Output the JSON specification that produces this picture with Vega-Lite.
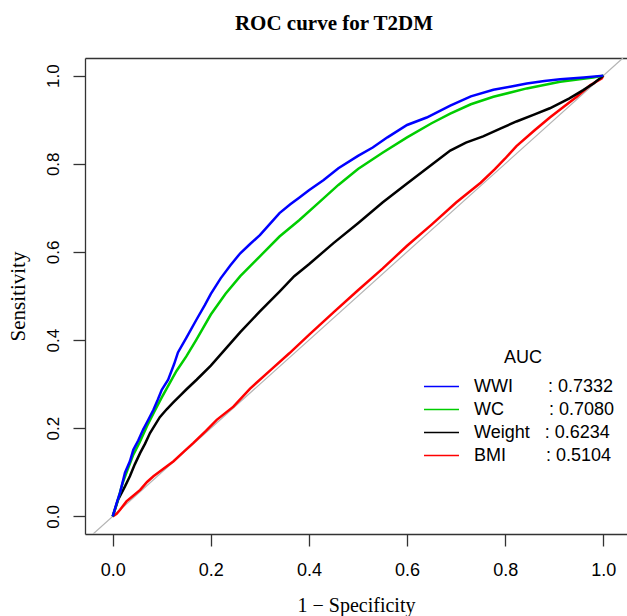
{
  "$schema": "https://vega.github.io/schema/vega-lite/v6.json",
  "width": 542,
  "height": 476,
  "autosize": "none",
  "padding": {"left": 85, "top": 58, "right": 0, "bottom": 82},
  "background": "white",
  "config": {"view": {"stroke": null}},
  "title": {"text": "ROC curve for T2DM", "font": "Liberation Serif", "fontSize": 21, "fontWeight": "bold", "color": "black", "anchor": "middle", "dx": -22, "offset": 24},
  "datasets": {
    "diag": [{"fpr": -0.04, "tpr": -0.04}, {"fpr": 1.04, "tpr": 1.04}],
    "roc": [
      {"marker": "BMI", "fpr": 0, "tpr": 0},
      {"marker": "BMI", "fpr": 0.008, "tpr": 0.006},
      {"marker": "BMI", "fpr": 0.015, "tpr": 0.015},
      {"marker": "BMI", "fpr": 0.028, "tpr": 0.034},
      {"marker": "BMI", "fpr": 0.04, "tpr": 0.045},
      {"marker": "BMI", "fpr": 0.056, "tpr": 0.06},
      {"marker": "BMI", "fpr": 0.07, "tpr": 0.078},
      {"marker": "BMI", "fpr": 0.083, "tpr": 0.091},
      {"marker": "BMI", "fpr": 0.1, "tpr": 0.105},
      {"marker": "BMI", "fpr": 0.124, "tpr": 0.125},
      {"marker": "BMI", "fpr": 0.145, "tpr": 0.147},
      {"marker": "BMI", "fpr": 0.164, "tpr": 0.166},
      {"marker": "BMI", "fpr": 0.19, "tpr": 0.194},
      {"marker": "BMI", "fpr": 0.212, "tpr": 0.219},
      {"marker": "BMI", "fpr": 0.246, "tpr": 0.249},
      {"marker": "BMI", "fpr": 0.28, "tpr": 0.29},
      {"marker": "BMI", "fpr": 0.32, "tpr": 0.33},
      {"marker": "BMI", "fpr": 0.36, "tpr": 0.37},
      {"marker": "BMI", "fpr": 0.4, "tpr": 0.412},
      {"marker": "BMI", "fpr": 0.45, "tpr": 0.463},
      {"marker": "BMI", "fpr": 0.5, "tpr": 0.513},
      {"marker": "BMI", "fpr": 0.55, "tpr": 0.562},
      {"marker": "BMI", "fpr": 0.6, "tpr": 0.614},
      {"marker": "BMI", "fpr": 0.65, "tpr": 0.662},
      {"marker": "BMI", "fpr": 0.7, "tpr": 0.712},
      {"marker": "BMI", "fpr": 0.75, "tpr": 0.757},
      {"marker": "BMI", "fpr": 0.779, "tpr": 0.788},
      {"marker": "BMI", "fpr": 0.8, "tpr": 0.812},
      {"marker": "BMI", "fpr": 0.823, "tpr": 0.84},
      {"marker": "BMI", "fpr": 0.86, "tpr": 0.876},
      {"marker": "BMI", "fpr": 0.891, "tpr": 0.905},
      {"marker": "BMI", "fpr": 0.92, "tpr": 0.93},
      {"marker": "BMI", "fpr": 0.946, "tpr": 0.952},
      {"marker": "BMI", "fpr": 0.973, "tpr": 0.978},
      {"marker": "BMI", "fpr": 0.997, "tpr": 0.994},
      {"marker": "BMI", "fpr": 1, "tpr": 1},
      {"marker": "Weight", "fpr": 0, "tpr": 0},
      {"marker": "Weight", "fpr": 0.011, "tpr": 0.038},
      {"marker": "Weight", "fpr": 0.025, "tpr": 0.068},
      {"marker": "Weight", "fpr": 0.035, "tpr": 0.091},
      {"marker": "Weight", "fpr": 0.045, "tpr": 0.118},
      {"marker": "Weight", "fpr": 0.056, "tpr": 0.144},
      {"marker": "Weight", "fpr": 0.066, "tpr": 0.165},
      {"marker": "Weight", "fpr": 0.076, "tpr": 0.189},
      {"marker": "Weight", "fpr": 0.096, "tpr": 0.225},
      {"marker": "Weight", "fpr": 0.11, "tpr": 0.243},
      {"marker": "Weight", "fpr": 0.124, "tpr": 0.259},
      {"marker": "Weight", "fpr": 0.14, "tpr": 0.277},
      {"marker": "Weight", "fpr": 0.151, "tpr": 0.289},
      {"marker": "Weight", "fpr": 0.171, "tpr": 0.31},
      {"marker": "Weight", "fpr": 0.2, "tpr": 0.342},
      {"marker": "Weight", "fpr": 0.23, "tpr": 0.38},
      {"marker": "Weight", "fpr": 0.26, "tpr": 0.418},
      {"marker": "Weight", "fpr": 0.3, "tpr": 0.465},
      {"marker": "Weight", "fpr": 0.34, "tpr": 0.51},
      {"marker": "Weight", "fpr": 0.37, "tpr": 0.545},
      {"marker": "Weight", "fpr": 0.4, "tpr": 0.572},
      {"marker": "Weight", "fpr": 0.45, "tpr": 0.62},
      {"marker": "Weight", "fpr": 0.5, "tpr": 0.665},
      {"marker": "Weight", "fpr": 0.55, "tpr": 0.712},
      {"marker": "Weight", "fpr": 0.6, "tpr": 0.755},
      {"marker": "Weight", "fpr": 0.65, "tpr": 0.798},
      {"marker": "Weight", "fpr": 0.688, "tpr": 0.83},
      {"marker": "Weight", "fpr": 0.72, "tpr": 0.848},
      {"marker": "Weight", "fpr": 0.755, "tpr": 0.862},
      {"marker": "Weight", "fpr": 0.79, "tpr": 0.88},
      {"marker": "Weight", "fpr": 0.823, "tpr": 0.896},
      {"marker": "Weight", "fpr": 0.86, "tpr": 0.912},
      {"marker": "Weight", "fpr": 0.891, "tpr": 0.926},
      {"marker": "Weight", "fpr": 0.93, "tpr": 0.948},
      {"marker": "Weight", "fpr": 0.959, "tpr": 0.967},
      {"marker": "Weight", "fpr": 0.98, "tpr": 0.982},
      {"marker": "Weight", "fpr": 1, "tpr": 1},
      {"marker": "WC", "fpr": 0, "tpr": 0},
      {"marker": "WC", "fpr": 0.01, "tpr": 0.035},
      {"marker": "WC", "fpr": 0.02, "tpr": 0.075},
      {"marker": "WC", "fpr": 0.03, "tpr": 0.105},
      {"marker": "WC", "fpr": 0.042, "tpr": 0.14},
      {"marker": "WC", "fpr": 0.055, "tpr": 0.168},
      {"marker": "WC", "fpr": 0.07, "tpr": 0.205},
      {"marker": "WC", "fpr": 0.085, "tpr": 0.238},
      {"marker": "WC", "fpr": 0.1, "tpr": 0.27},
      {"marker": "WC", "fpr": 0.115, "tpr": 0.3},
      {"marker": "WC", "fpr": 0.13, "tpr": 0.33},
      {"marker": "WC", "fpr": 0.15, "tpr": 0.363},
      {"marker": "WC", "fpr": 0.17, "tpr": 0.4},
      {"marker": "WC", "fpr": 0.2, "tpr": 0.458},
      {"marker": "WC", "fpr": 0.23, "tpr": 0.505},
      {"marker": "WC", "fpr": 0.26, "tpr": 0.545},
      {"marker": "WC", "fpr": 0.3, "tpr": 0.59},
      {"marker": "WC", "fpr": 0.34, "tpr": 0.635},
      {"marker": "WC", "fpr": 0.38, "tpr": 0.672},
      {"marker": "WC", "fpr": 0.42, "tpr": 0.712},
      {"marker": "WC", "fpr": 0.46, "tpr": 0.752},
      {"marker": "WC", "fpr": 0.5, "tpr": 0.788},
      {"marker": "WC", "fpr": 0.55, "tpr": 0.825},
      {"marker": "WC", "fpr": 0.6, "tpr": 0.86},
      {"marker": "WC", "fpr": 0.65, "tpr": 0.892},
      {"marker": "WC", "fpr": 0.688, "tpr": 0.914},
      {"marker": "WC", "fpr": 0.73, "tpr": 0.935},
      {"marker": "WC", "fpr": 0.776, "tpr": 0.952},
      {"marker": "WC", "fpr": 0.844, "tpr": 0.971},
      {"marker": "WC", "fpr": 0.912, "tpr": 0.986},
      {"marker": "WC", "fpr": 0.979, "tpr": 0.996},
      {"marker": "WC", "fpr": 1, "tpr": 1},
      {"marker": "WWI", "fpr": 0, "tpr": 0},
      {"marker": "WWI", "fpr": 0.008, "tpr": 0.03},
      {"marker": "WWI", "fpr": 0.015, "tpr": 0.054},
      {"marker": "WWI", "fpr": 0.025, "tpr": 0.099},
      {"marker": "WWI", "fpr": 0.035, "tpr": 0.125},
      {"marker": "WWI", "fpr": 0.042, "tpr": 0.151},
      {"marker": "WWI", "fpr": 0.052, "tpr": 0.172},
      {"marker": "WWI", "fpr": 0.062, "tpr": 0.197},
      {"marker": "WWI", "fpr": 0.072, "tpr": 0.218},
      {"marker": "WWI", "fpr": 0.083, "tpr": 0.242},
      {"marker": "WWI", "fpr": 0.092, "tpr": 0.265},
      {"marker": "WWI", "fpr": 0.1, "tpr": 0.287},
      {"marker": "WWI", "fpr": 0.113, "tpr": 0.31},
      {"marker": "WWI", "fpr": 0.125, "tpr": 0.345},
      {"marker": "WWI", "fpr": 0.133, "tpr": 0.372},
      {"marker": "WWI", "fpr": 0.15, "tpr": 0.405},
      {"marker": "WWI", "fpr": 0.17, "tpr": 0.445},
      {"marker": "WWI", "fpr": 0.188, "tpr": 0.48},
      {"marker": "WWI", "fpr": 0.2, "tpr": 0.505},
      {"marker": "WWI", "fpr": 0.22, "tpr": 0.54},
      {"marker": "WWI", "fpr": 0.24, "tpr": 0.57},
      {"marker": "WWI", "fpr": 0.26, "tpr": 0.597},
      {"marker": "WWI", "fpr": 0.28, "tpr": 0.618},
      {"marker": "WWI", "fpr": 0.3, "tpr": 0.638},
      {"marker": "WWI", "fpr": 0.32, "tpr": 0.663},
      {"marker": "WWI", "fpr": 0.34, "tpr": 0.688},
      {"marker": "WWI", "fpr": 0.362, "tpr": 0.708},
      {"marker": "WWI", "fpr": 0.38, "tpr": 0.723},
      {"marker": "WWI", "fpr": 0.4, "tpr": 0.74},
      {"marker": "WWI", "fpr": 0.43, "tpr": 0.763},
      {"marker": "WWI", "fpr": 0.46, "tpr": 0.79},
      {"marker": "WWI", "fpr": 0.5, "tpr": 0.818},
      {"marker": "WWI", "fpr": 0.53, "tpr": 0.837},
      {"marker": "WWI", "fpr": 0.56, "tpr": 0.86},
      {"marker": "WWI", "fpr": 0.6, "tpr": 0.888},
      {"marker": "WWI", "fpr": 0.64, "tpr": 0.905},
      {"marker": "WWI", "fpr": 0.688, "tpr": 0.932},
      {"marker": "WWI", "fpr": 0.73, "tpr": 0.953},
      {"marker": "WWI", "fpr": 0.776, "tpr": 0.968},
      {"marker": "WWI", "fpr": 0.81, "tpr": 0.975},
      {"marker": "WWI", "fpr": 0.844, "tpr": 0.982},
      {"marker": "WWI", "fpr": 0.88, "tpr": 0.988},
      {"marker": "WWI", "fpr": 0.912, "tpr": 0.992},
      {"marker": "WWI", "fpr": 0.96, "tpr": 0.996},
      {"marker": "WWI", "fpr": 1, "tpr": 1}
    ]
  },
  "layer": [
    {
      "data": {"name": "diag"},
      "mark": {"type": "line", "color": "#b4b4b4", "strokeWidth": 1.2, "clip": true},
      "encoding": {
        "x": {"field": "fpr", "type": "quantitative", "scale": {"domain": [-0.0565, 1.0483], "nice": false, "zero": false},
          "axis": {"orient": "top", "labels": false, "ticks": false, "title": null, "grid": false, "domainColor": "#333333", "domainWidth": 1.3}},
        "y": {"field": "tpr", "type": "quantitative", "scale": {"domain": [-0.04, 1.04], "nice": false, "zero": false}}
      }
    },
    {
      "data": {"name": "roc"},
      "mark": {"type": "line", "strokeWidth": 2.5, "clip": true},
      "encoding": {
        "x": {"field": "fpr", "type": "quantitative",
          "axis": {"orient": "bottom", "values": [0, 0.2, 0.4, 0.6, 0.8, 1], "format": ".1f", "grid": false,
            "domainColor": "#333333", "domainWidth": 1.3, "tickColor": "#333333", "tickWidth": 1.3, "tickSize": 12,
            "labelFont": "Liberation Sans", "labelFontSize": 18, "labelColor": "black", "labelPadding": 15, "labelFlush": false, "labelOverlap": false,
            "title": "1 − Specificity", "titleFont": "Liberation Serif", "titleFontSize": 20, "titleFontWeight": "normal", "titleColor": "black", "titlePadding": 16}},
        "y": {"field": "tpr", "type": "quantitative",
          "axis": {"orient": "left", "values": [0, 0.2, 0.4, 0.6, 0.8, 1], "format": ".1f", "grid": false,
            "domainColor": "#333333", "domainWidth": 1.3, "tickColor": "#333333", "tickWidth": 1.3, "tickSize": 12,
            "labelFont": "Liberation Sans", "labelFontSize": 17, "labelColor": "black", "labelPadding": 15, "labelFlush": false, "labelOverlap": false,
            "labelAngle": -90, "labelAlign": "center", "labelBaseline": "alphabetic",
            "title": "Sensitivity", "titleFont": "Liberation Serif", "titleFontSize": 21, "titleFontWeight": "normal", "titleColor": "black", "titlePadding": 16}},
        "color": {"field": "marker", "type": "nominal",
          "scale": {"domain": ["WWI", "WC", "Weight", "BMI"], "range": ["#0000ff", "#00cd00", "#000000", "#ff0000"]},
          "legend": {"title": "AUC", "orient": "none", "legendX": 347, "legendY": 291, "padding": 0,
            "symbolType": "M-2,0H2", "symbolSize": 306, "symbolStrokeWidth": 1.5,
            "labelFont": "Liberation Sans", "labelFontSize": 18, "labelColor": "black", "labelOffset": 23,
            "titleFont": "Liberation Sans", "titleFontSize": 18, "titleFontWeight": "normal", "titleColor": "black",
            "titleAnchor": "middle", "titleAlign": "center", "titlePadding": 10, "rowPadding": 4,
            "labelExpr": "datum.label === 'WWI' ? 'WWI\u00a0\u00a0\u00a0\u00a0\u00a0\u00a0\u00a0:\u00a00.7332' : datum.label === 'WC' ? 'WC\u00a0\u00a0\u00a0\u00a0\u00a0\u00a0\u00a0\u00a0\u00a0:\u00a00.7080' : datum.label === 'Weight' ? 'Weight\u00a0\u00a0\u00a0:\u00a00.6234' : 'BMI\u00a0\u00a0\u00a0\u00a0\u00a0\u00a0\u00a0\u00a0:\u00a00.5104'"}}
      }
    }
  ],
  "resolve": {"axis": {"x": "independent"}}
}
